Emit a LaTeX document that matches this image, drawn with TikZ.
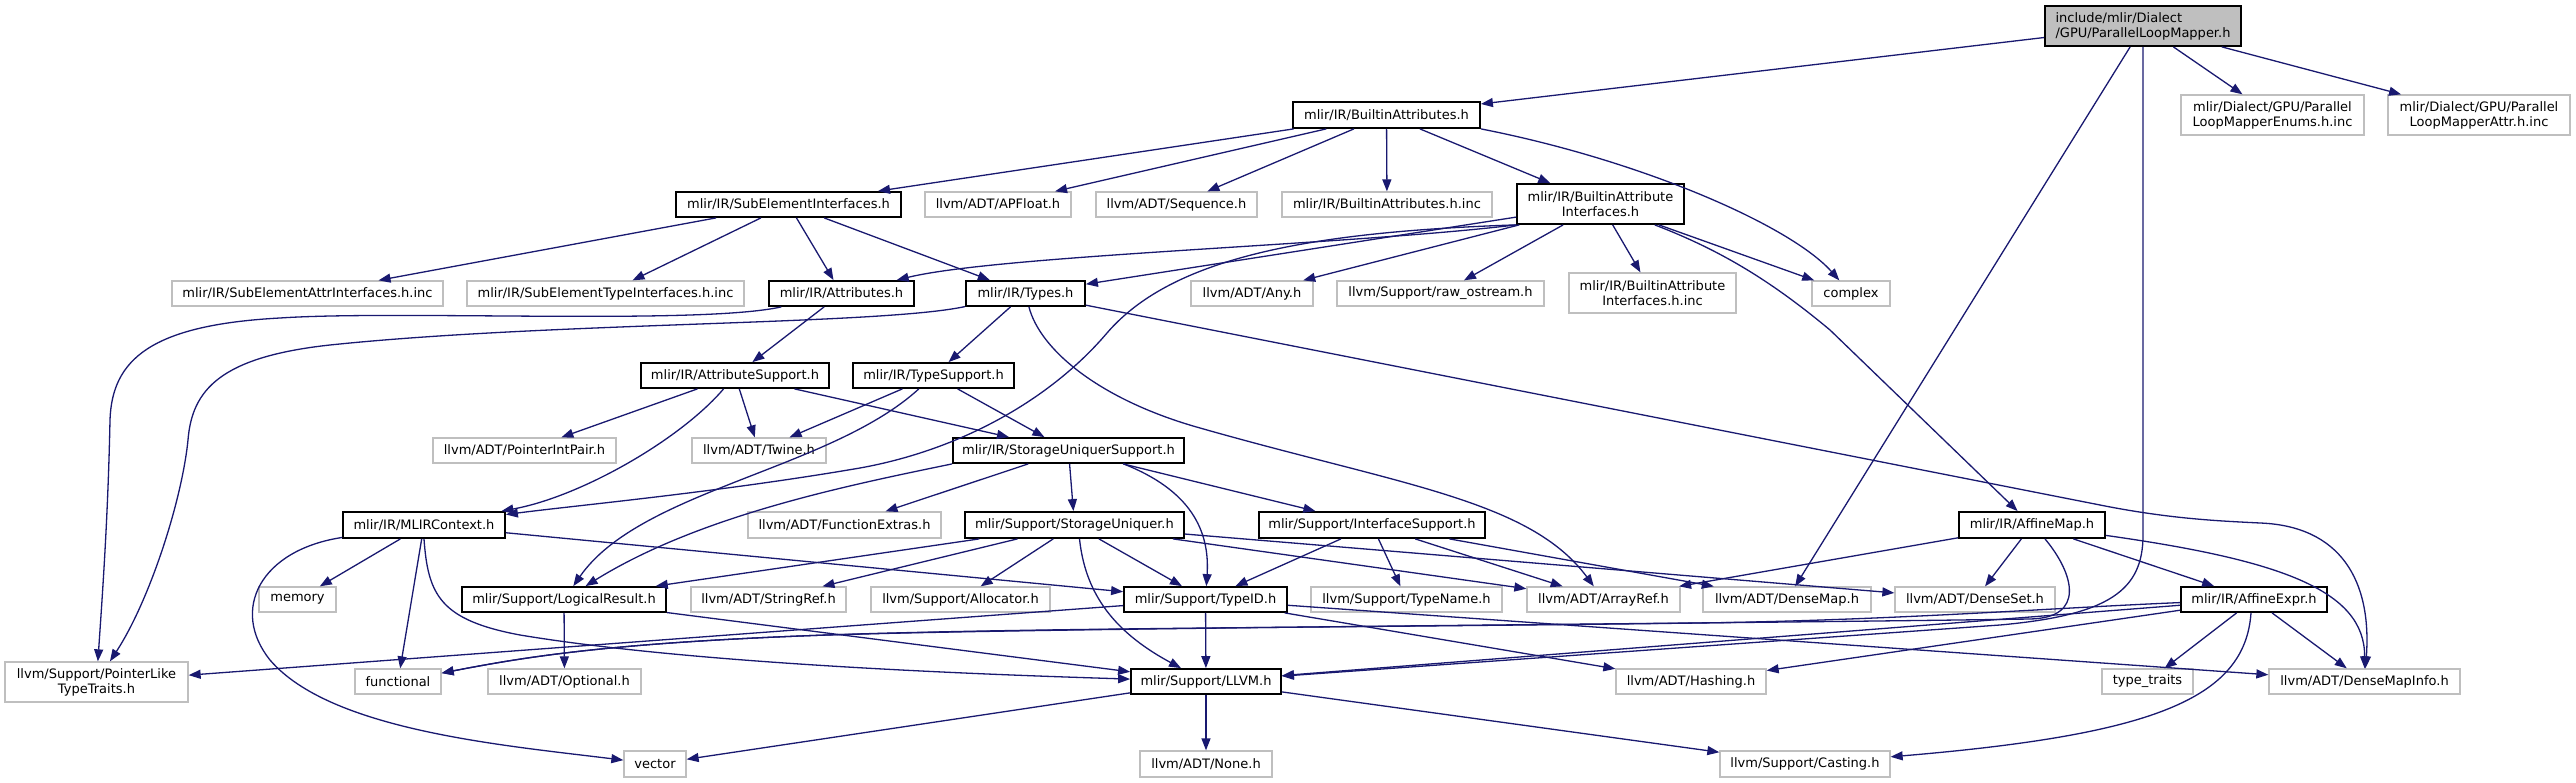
\documentclass[tikz,border=0pt]{standalone}
\usepackage{fontspec}
\setmainfont{DejaVu Sans}
\usetikzlibrary{arrows.meta}
\definecolor{edgec}{HTML}{191970}
\definecolor{extc}{HTML}{BFBFBF}
\tikzset{
  box/.style={rectangle, inner sep=0pt, align=center, font=\fontsize{13pt}{15pt}\selectfont, text=black},
  doc/.style={box, draw=black, line width=1.8pt},
  ext/.style={box, draw=extc, line width=1.3pt},
  edge/.style={draw=edgec, line width=1.3pt, -{Triangle[length=12pt,width=9pt]}},
}
\begin{document}
\begin{tikzpicture}[x=1pt,y=-1pt]
\fill[white] (0,0) rectangle (2576,783);
\useasboundingbox (0,0) rectangle (2576,783);
% nodes
\node[doc, fill=extc, align=left, minimum width=196pt, minimum height=40pt] (top) at (2143,26) {include/mlir/Dialect\\/GPU/ParallelLoopMapper.h};
\node[doc, minimum width=187pt, minimum height=26pt] (BA) at (1386.5,115) {mlir/IR/BuiltinAttributes.h};
\node[ext, minimum width=183pt, minimum height=40pt] (Enums) at (2272.5,115) {mlir/Dialect/GPU/Parallel\\LoopMapperEnums.h.inc};
\node[ext, minimum width=182pt, minimum height=40pt] (AttrInc) at (2479,115) {mlir/Dialect/GPU/Parallel\\LoopMapperAttr.h.inc};
\node[doc, minimum width=225pt, minimum height=25pt] (SEI) at (788.5,204.5) {mlir/IR/SubElementInterfaces.h};
\node[ext, minimum width=146pt, minimum height=25pt] (APF) at (998,204.5) {llvm/ADT/APFloat.h};
\node[ext, minimum width=161pt, minimum height=25pt] (Seq) at (1176.5,204.5) {llvm/ADT/Sequence.h};
\node[ext, minimum width=210pt, minimum height=25pt] (BAinc) at (1387,204.5) {mlir/IR/BuiltinAttributes.h.inc};
\node[doc, minimum width=167pt, minimum height=40pt] (BAI) at (1600.5,204) {mlir/IR/BuiltinAttribute\\Interfaces.h};
\node[ext, minimum width=271pt, minimum height=25pt] (SEAinc) at (307.5,293.5) {mlir/IR/SubElementAttrInterfaces.h.inc};
\node[ext, minimum width=277pt, minimum height=25pt] (SETinc) at (605.5,293.5) {mlir/IR/SubElementTypeInterfaces.h.inc};
\node[doc, minimum width=145pt, minimum height=25pt] (Attrs) at (841.5,293.5) {mlir/IR/Attributes.h};
\node[doc, minimum width=119pt, minimum height=25pt] (Types) at (1025.5,293.5) {mlir/IR/Types.h};
\node[ext, minimum width=122pt, minimum height=25pt] (Any) at (1252,293.5) {llvm/ADT/Any.h};
\node[ext, minimum width=207pt, minimum height=25pt] (Raw) at (1440.5,293.5) {llvm/Support/raw\_ostream.h};
\node[ext, minimum width=167pt, minimum height=40pt] (BAIinc) at (1652.5,293) {mlir/IR/BuiltinAttribute\\Interfaces.h.inc};
\node[ext, minimum width=78pt, minimum height=25pt] (Cplx) at (1851,293.5) {complex};
\node[doc, minimum width=188pt, minimum height=25pt] (AttrSup) at (735,375.5) {mlir/IR/AttributeSupport.h};
\node[doc, minimum width=161pt, minimum height=25pt] (TypeSup) at (933.5,375.5) {mlir/IR/TypeSupport.h};
\node[ext, minimum width=183pt, minimum height=25pt] (PIP) at (524.5,450.5) {llvm/ADT/PointerIntPair.h};
\node[ext, minimum width=134pt, minimum height=25pt] (Twine) at (759,450.5) {llvm/ADT/Twine.h};
\node[doc, minimum width=231pt, minimum height=25pt] (SUS) at (1068.5,450.5) {mlir/IR/StorageUniquerSupport.h};
\node[doc, minimum width=162pt, minimum height=26pt] (MLIR) at (424,525) {mlir/IR/MLIRContext.h};
\node[ext, minimum width=193pt, minimum height=26pt] (FuncExt) at (844.5,525) {llvm/ADT/FunctionExtras.h};
\node[doc, minimum width=219pt, minimum height=26pt] (SU) at (1074.5,525) {mlir/Support/StorageUniquer.h};
\node[doc, minimum width=226pt, minimum height=26pt] (IS) at (1372,525) {mlir/Support/InterfaceSupport.h};
\node[doc, minimum width=146pt, minimum height=26pt] (AffMap) at (2032,525) {mlir/IR/AffineMap.h};
\node[ext, minimum width=77pt, minimum height=25pt] (Memory) at (297.5,599.5) {memory};
\node[doc, minimum width=204pt, minimum height=25pt] (LR) at (564,599.5) {mlir/Support/LogicalResult.h};
\node[ext, minimum width=155pt, minimum height=25pt] (StrRef) at (768.5,599.5) {llvm/ADT/StringRef.h};
\node[ext, minimum width=179pt, minimum height=25pt] (Alloc) at (960.5,599.5) {llvm/Support/Allocator.h};
\node[doc, minimum width=163pt, minimum height=25pt] (TypeID) at (1205.5,599.5) {mlir/Support/TypeID.h};
\node[ext, minimum width=191pt, minimum height=25pt] (TypeName) at (1406.5,599.5) {llvm/Support/TypeName.h};
\node[ext, minimum width=153pt, minimum height=25pt] (ArrayRef) at (1603.5,599.5) {llvm/ADT/ArrayRef.h};
\node[ext, minimum width=168pt, minimum height=25pt] (DenseMap) at (1787,599.5) {llvm/ADT/DenseMap.h};
\node[ext, minimum width=160pt, minimum height=25pt] (DenseSet) at (1975,599.5) {llvm/ADT/DenseSet.h};
\node[doc, minimum width=146pt, minimum height=25pt] (AffExpr) at (2254,599.5) {mlir/IR/AffineExpr.h};
\node[ext, minimum width=183pt, minimum height=40pt] (PLT) at (96.5,682) {llvm/Support/PointerLike\\TypeTraits.h};
\node[ext, minimum width=86pt, minimum height=25pt] (Func) at (398,681.5) {functional};
\node[ext, minimum width=153pt, minimum height=25pt] (Optional) at (564.5,681.5) {llvm/ADT/Optional.h};
\node[doc, minimum width=150pt, minimum height=25pt] (LLVM) at (1206,681.5) {mlir/Support/LLVM.h};
\node[ext, minimum width=150pt, minimum height=25pt] (Hashing) at (1691,681.5) {llvm/ADT/Hashing.h};
\node[ext, minimum width=91pt, minimum height=25pt] (TT) at (2147.5,681.5) {type\_traits};
\node[ext, minimum width=191pt, minimum height=25pt] (DMI) at (2364.5,681.5) {llvm/ADT/DenseMapInfo.h};
\node[ext, minimum width=62pt, minimum height=26pt] (Vector) at (655,764) {vector};
\node[ext, minimum width=132pt, minimum height=26pt] (None) at (1206,764) {llvm/ADT/None.h};
\node[ext, minimum width=170pt, minimum height=26pt] (Casting) at (1805,764) {llvm/Support/Casting.h};
% edges
\draw[edge] (top) -- (BA);
\draw[edge] (top) -- (DenseMap);
\draw[edge] (top) -- (2143,535) .. controls (2143,590) and (2110,615) .. (2000,625) -- (LLVM);
\draw[edge] (top) -- (Enums);
\draw[edge] (top) -- (AttrInc);
\draw[edge] (BA) -- (SEI);
\draw[edge] (BA) -- (APF);
\draw[edge] (BA) -- (Seq);
\draw[edge] (BA) -- (BAinc);
\draw[edge] (BA) -- (BAI);
\draw[edge] (BA.south east) .. controls (1640,160) and (1790,225) .. (Cplx);
\draw[edge] (SEI) -- (SEAinc);
\draw[edge] (SEI) -- (SETinc);
\draw[edge] (SEI) -- (Attrs);
\draw[edge] (SEI) -- (Types);
\draw[edge] (BAI.south west) .. controls (1350,245) and (1000,255) .. (Attrs);
\draw[edge] (BAI) -- (Types);
\draw[edge] (BAI.south west) .. controls (1300,232) and (1170,260) .. (1107,333) .. controls (1050,400) and (960,450) .. (860,468) .. controls (720,492) and (580,505) .. (MLIR);
\draw[edge] (BAI) -- (Any);
\draw[edge] (BAI) -- (Raw);
\draw[edge] (BAI) -- (BAIinc);
\draw[edge] (BAI) -- (Cplx);
\draw[edge] (BAI) .. controls (1720,250) and (1770,280) .. (1830,330) -- (AffMap);
\draw[edge] (Attrs) -- (AttrSup);
\draw[edge] (Attrs) .. controls (700,325) and (400,310) .. (280,318) .. controls (150,325) and (112,360) .. (110,420) .. controls (108,520) and (102,600) .. (PLT);
\draw[edge] (Types) -- (TypeSup);
\draw[edge] (Types) .. controls (880,325) and (550,322) .. (330,345) .. controls (220,357) and (192,390) .. (188,440) .. controls (182,500) and (150,600) .. (PLT);
\draw[edge] (Types) .. controls (1040,350) and (1100,400) .. (1200,428) .. controls (1400,485) and (1530,500) .. (ArrayRef);
\draw[edge] (Types) -- (2100,505) .. controls (2170,519) and (2220,521) .. (2260,523) .. controls (2340,526) and (2372,580) .. (DMI);
\draw[edge] (AttrSup) -- (PIP);
\draw[edge] (AttrSup) -- (Twine);
\draw[edge] (AttrSup) .. controls (680,440) and (580,497) .. (MLIR);
\draw[edge] (AttrSup) -- (SUS);
\draw[edge] (TypeSup) -- (Twine);
\draw[edge] (TypeSup) -- (SUS);
\draw[edge] (TypeSup) .. controls (830,470) and (640,490) .. (LR);
\draw[edge] (SUS.south west) .. controls (850,485) and (700,515) .. (LR);
\draw[edge] (SUS) -- (FuncExt);
\draw[edge] (SUS) -- (SU);
\draw[edge] ([xshift=55pt]SUS.south) .. controls (1190,490) and (1210,530) .. (TypeID);
\draw[edge] (SUS) -- (IS);
\draw[edge] (MLIR) -- (Memory);
\draw[edge] (MLIR) -- (Func);
\draw[edge] (MLIR.south) .. controls (428,595) and (440,620) .. (520,635) .. controls (700,665) and (1000,675) .. (LLVM);
\draw[edge] (MLIR) .. controls (260,550) and (230,610) .. (270,660) .. controls (330,730) and (500,745) .. (Vector);
\draw[edge] (MLIR) -- (TypeID);
\draw[edge] (SU) -- (LR);
\draw[edge] (SU) -- (StrRef);
\draw[edge] (SU) -- (Alloc);
\draw[edge] (SU) -- (TypeID);
\draw[edge] ([xshift=5pt]SU.south) .. controls (1085,590) and (1110,630) .. (LLVM);
\draw[edge] (SU) -- (ArrayRef);
\draw[edge] (SU) -- (DenseSet);
\draw[edge] (IS) -- (TypeID);
\draw[edge] (IS) -- (TypeName);
\draw[edge] (IS) -- (ArrayRef);
\draw[edge] (IS) -- (DenseMap);
\draw[edge] (AffMap) -- (ArrayRef);
\draw[edge] (AffMap) -- (DenseSet);
\draw[edge] ([xshift=13pt]AffMap.south) .. controls (2075,575) and (2085,618) .. (2030,619) .. controls (1700,624) and (1000,628) .. (800,636) .. controls (600,644) and (520,658) .. (Func);
\draw[edge] (AffMap) -- (AffExpr);
\draw[edge] (AffMap) .. controls (2280,560) and (2365,590) .. (DMI);
\draw[edge] (AffExpr) -- (TT);
\draw[edge] (AffExpr) -- (DMI);
\draw[edge] ([xshift=-3pt]AffExpr.south) .. controls (2245,700) and (2150,735) .. (Casting);
\draw[edge] (AffExpr) -- (LLVM);
\draw[edge] (AffExpr) -- (Hashing);
\draw[edge] (AffExpr) .. controls (2050,608) and (1900,620) .. (1700,623) .. controls (1300,628) and (1000,628) .. (800,636) .. controls (600,644) and (520,658) .. (Func);
\draw[edge] (TypeID) -- (PLT);
\draw[edge] (TypeID) -- (LLVM);
\draw[edge] (TypeID) -- (Hashing);
\draw[edge] (TypeID) -- (DMI);
\draw[edge] (LR) -- (Optional);
\draw[edge] (LR) -- (LLVM);
\draw[edge] (LLVM) -- (Vector);
\draw[edge] (LLVM) -- (None);
\draw[edge] (LLVM) -- (Casting);
\end{tikzpicture}
\end{document}
